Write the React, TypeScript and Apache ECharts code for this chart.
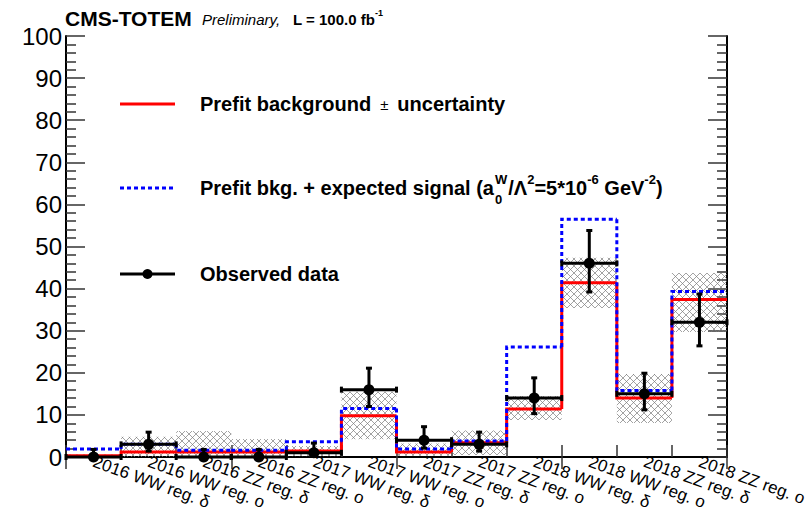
import React, { useEffect, useRef } from "react";
import * as echarts from "echarts";

const categories = [
  "2016 WW reg. δ",
  "2016 WW reg. o",
  "2016 ZZ reg. δ",
  "2016 ZZ reg. o",
  "2017 WW reg. δ",
  "2017 WW reg. o",
  "2017 ZZ reg. δ",
  "2017 ZZ reg. o",
  "2018 WW reg. δ",
  "2018 WW reg. o",
  "2018 ZZ reg. δ",
  "2018 ZZ reg. o",
];
const background = [0.3, 1.2, 1.2, 1.2, 1.4, 9.8, 1.2, 3.4, 11.4, 41.4, 14.0, 37.4];
const bandLow = [0.0, 0.0, 0.0, 0.0, 0.2, 4.2, 0.3, 0.5, 8.8, 35.4, 8.1, 29.7];
const bandHigh = [0.6, 4.8, 6.2, 4.3, 2.6, 15.5, 3.2, 6.3, 14.5, 47.3, 19.7, 43.7];
const bkgPlusSignal = [1.9, 3.0, 1.6, 1.6, 3.6, 11.5, 1.9, 3.8, 26.1, 56.5, 15.8, 39.3];
const observed = [0, 3, 0, 0, 1, 16, 4, 3, 14, 46, 15, 32];
const observedErrLow = [0, 1.6, 0, 0, 0.8, 4.0, 1.9, 1.6, 3.7, 6.8, 3.8, 5.6];
const observedErrHigh = [1.8, 2.9, 1.8, 1.8, 2.3, 5.1, 3.2, 2.9, 4.8, 7.8, 4.9, 6.7];
const yMin = 0;
const yMax = 100;
const yInterval = 10;

const FAMILY = "'Liberation Sans', Arial, Helvetica, sans-serif";

type Seg = { t: string; size: number; weight?: string; style?: string; dy?: number; stack?: { t: string; dy: number }[]; gap?: number };

function makeMeasurer() {
  const ctx = document.createElement("canvas").getContext("2d")!;
  return (text: string, size: number, weight = "normal", style = "normal") => {
    ctx.font = `${style} ${weight} ${size}px ${FAMILY}`;
    return ctx.measureText(text).width;
  };
}

function layoutRow(x: number, y: number, segs: Seg[], measure: ReturnType<typeof makeMeasurer>) {
  const els: any[] = [];
  let cx = x;
  for (const s of segs) {
    const weight = s.weight || "bold";
    const fstyle = s.style || "normal";
    if (s.stack) {
      let w = 0;
      for (const st of s.stack) {
        els.push({
          type: "text",
          x: cx,
          y: y + st.dy,
          style: { text: st.t, fontSize: s.size, fontWeight: weight, fontStyle: fstyle, fontFamily: FAMILY, fill: "#000", verticalAlign: "middle", align: "left" },
        });
        w = Math.max(w, measure(st.t, s.size, weight, fstyle));
      }
      cx += w + (s.gap || 0);
    } else {
      els.push({
        type: "text",
        x: cx,
        y: y + (s.dy || 0),
        style: { text: s.t, fontSize: s.size, fontWeight: weight, fontStyle: fstyle, fontFamily: FAMILY, fill: "#000", verticalAlign: "middle", align: "left" },
      });
      cx += measure(s.t, s.size, weight, fstyle) + (s.gap || 0);
    }
  }
  return els;
}

const hatchSvg =
  "<svg xmlns='http://www.w3.org/2000/svg' width='7' height='7'><path d='M-1,-1 L8,8 M-1,8 L8,-1' stroke='#7a7a7a' stroke-width='0.7' fill='none'/></svg>";
const hatchUrl = "data:image/svg+xml;utf8," + encodeURIComponent(hatchSvg);

export default function App() {
  const ref = useRef<HTMLDivElement>(null);
  useEffect(() => {
    const chart = echarts.init(ref.current!, null, { renderer: "svg" });
    const measure = makeMeasurer();

    const histItem = (color: string, dash: number[] | null) => (params: any, api: any) => {
      const i = api.value(0);
      const v = api.value(1);
      const pv = api.value(2);
      const c = api.coord([i, v]);
      const p = api.coord([i, pv]);
      const w = api.size([1, 0])[0];
      const left = c[0] - w / 2;
      const right = c[0] + w / 2;
      return {
        type: "polyline",
        shape: { points: [[left, p[1]], [left, c[1]], [right, c[1]]] },
        style: { stroke: color, lineWidth: 3, fill: null, lineDash: dash || undefined },
      };
    };

    const histData = (vals: number[]) => vals.map((v, i) => [i, v, i === 0 ? v : vals[i - 1]]);

    const hatchPattern: any = { image: hatchUrl, repeat: "repeat", imageWidth: 7, imageHeight: 7 };

    const headerEls = [
      ...layoutRow(65, 18, [{ t: "CMS-TOTEM", size: 21 }], measure),
      ...layoutRow(202, 19, [{ t: "Preliminary,", size: 15, weight: "normal", style: "italic" }], measure),
      ...layoutRow(293, 19, [{ t: "L = 100.0 fb", size: 15 }, { t: "-1", size: 9, dy: -6 }], measure),
    ];

    const legendEls = [
      { type: "line", shape: { x1: 120, y1: 104, x2: 175, y2: 104 }, style: { stroke: "#ff0000", lineWidth: 3 } },
      ...layoutRow(200, 104, [
        { t: "Prefit background", size: 20, gap: 9 },
        { t: "±", size: 15, weight: "normal", gap: 9 },
        { t: "uncertainty", size: 20 },
      ], measure),
      { type: "line", shape: { x1: 120, y1: 188, x2: 175, y2: 188 }, style: { stroke: "#0000ff", lineWidth: 3, lineDash: [4, 3] } },
      ...layoutRow(200, 188, [
        { t: "Prefit bkg. + expected signal (a", size: 20, gap: 1 },
        { t: "", size: 13, stack: [{ t: "W", dy: -9 }, { t: "0", dy: 11 }], gap: 1 },
        { t: "/Λ", size: 20 },
        { t: "2", size: 13, dy: -9 },
        { t: "=5*10", size: 20 },
        { t: "-6", size: 13, dy: -9 },
        { t: " GeV", size: 20 },
        { t: "-2", size: 13, dy: -9 },
        { t: ")", size: 20 },
      ], measure),
      { type: "line", shape: { x1: 120, y1: 274, x2: 175, y2: 274 }, style: { stroke: "#000", lineWidth: 3 } },
      { type: "circle", shape: { cx: 147.5, cy: 274, r: 5 }, style: { fill: "#000" } },
      ...layoutRow(200, 274, [{ t: "Observed data", size: 20 }], measure),
    ];

    const option: any = {
      animation: false,
      backgroundColor: "#fff",
      grid: { left: 66, right: 79, top: 36, bottom: 54, containLabel: false, outerBoundsMode: "none" },
      xAxis: [
        {
          type: "category",
          data: categories,
          position: "bottom",
          axisLine: { show: true, lineStyle: { color: "#000", width: 2 } },
          axisTick: { show: true, inside: true, length: 12, lineStyle: { color: "#333", width: 1.5 } },
          axisLabel: {
            interval: 0,
            rotate: -20,
            margin: 4,
            fontSize: 17,
            fontFamily: FAMILY,
            color: "#000",
            hideOverlap: false,
          },
          splitLine: { show: false },
        },
        {
          type: "category",
          data: categories,
          position: "top",
          axisLine: { show: true, lineStyle: { color: "#000", width: 2 } },
          axisTick: { show: true, inside: true, length: 12, lineStyle: { color: "#333", width: 1.5 } },
          axisLabel: { show: false },
          splitLine: { show: false },
        },
      ],
      yAxis: [
        {
          type: "value",
          min: yMin,
          max: yMax,
          interval: yInterval,
          position: "left",
          axisLine: { show: true, lineStyle: { color: "#000", width: 2 } },
          axisTick: { show: true, inside: true, length: 19, lineStyle: { color: "#333", width: 1.5 } },
          minorTick: { show: true, splitNumber: 5, length: 10, lineStyle: { color: "#333", width: 1.5 } },
          axisLabel: { fontSize: 24, fontFamily: FAMILY, color: "#000", margin: 4 },
          splitLine: { show: false },
        },
        {
          type: "value",
          min: yMin,
          max: yMax,
          interval: yInterval,
          position: "right",
          axisLine: { show: true, lineStyle: { color: "#000", width: 2 } },
          axisTick: { show: true, inside: true, length: 19, lineStyle: { color: "#333", width: 1.5 } },
          minorTick: { show: true, splitNumber: 5, length: 10, lineStyle: { color: "#333", width: 1.5 } },
          axisLabel: { show: false },
          splitLine: { show: false },
        },
      ],
      series: [
        {
          type: "custom",
          name: "uncertainty",
          xAxisIndex: 0,
          yAxisIndex: 0,
          encode: { x: 0, y: [1, 2] },
          data: bandLow.map((lo, i) => [i, lo, bandHigh[i]]),
          renderItem: (params: any, api: any) => {
            const i = api.value(0);
            const lo = api.coord([i, api.value(1)]);
            const hi = api.coord([i, api.value(2)]);
            const w = api.size([1, 0])[0];
            return {
              type: "rect",
              shape: { x: lo[0] - w / 2, y: hi[1], width: w, height: lo[1] - hi[1] },
              style: { fill: hatchPattern, stroke: null },
            };
          },
          z: 1,
        },
        {
          type: "custom",
          name: "Prefit background",
          encode: { x: 0, y: 1 },
          data: histData(background),
          renderItem: histItem("#ff0000", null),
          z: 2,
        },
        {
          type: "custom",
          name: "Prefit bkg. + expected signal",
          encode: { x: 0, y: 1 },
          data: histData(bkgPlusSignal),
          renderItem: histItem("#0000ff", [4, 3]),
          z: 3,
        },
        {
          type: "custom",
          name: "Observed data",
          encode: { x: 0, y: 1 },
          data: observed.map((v, i) => [i, v, v - observedErrLow[i], v + observedErrHigh[i]]),
          renderItem: (params: any, api: any) => {
            const i = api.value(0);
            const c = api.coord([i, api.value(1)]);
            const lo = api.coord([i, api.value(2)]);
            const hi = api.coord([i, api.value(3)]);
            const w = api.size([1, 0])[0];
            const left = c[0] - w / 2;
            const right = c[0] + w / 2;
            const st = { stroke: "#000", lineWidth: 3 };
            const cap = 3;
            const children: any[] = [
              { type: "line", shape: { x1: left, y1: c[1], x2: right, y2: c[1] }, style: st },
              { type: "line", shape: { x1: left, y1: c[1] - cap, x2: left, y2: c[1] + cap }, style: st },
              { type: "line", shape: { x1: right, y1: c[1] - cap, x2: right, y2: c[1] + cap }, style: st },
              { type: "line", shape: { x1: c[0], y1: lo[1], x2: c[0], y2: hi[1] }, style: st },
              { type: "line", shape: { x1: c[0] - cap, y1: hi[1], x2: c[0] + cap, y2: hi[1] }, style: st },
            ];
            if (lo[1] - c[1] > 1) {
              children.push({ type: "line", shape: { x1: c[0] - cap, y1: lo[1], x2: c[0] + cap, y2: lo[1] }, style: st });
            }
            children.push({ type: "circle", shape: { cx: c[0], cy: c[1], r: 5.5 }, style: { fill: "#000" } });
            return { type: "group", children };
          },
          z: 4,
        },
      ],
      graphic: [...headerEls, ...legendEls],
    };
    chart.setOption(option);
    return () => chart.dispose();
  }, []);
  return <div ref={ref} style={{ position: "absolute", left: 0, top: 0, width: 806, height: 511 }} />;
}
